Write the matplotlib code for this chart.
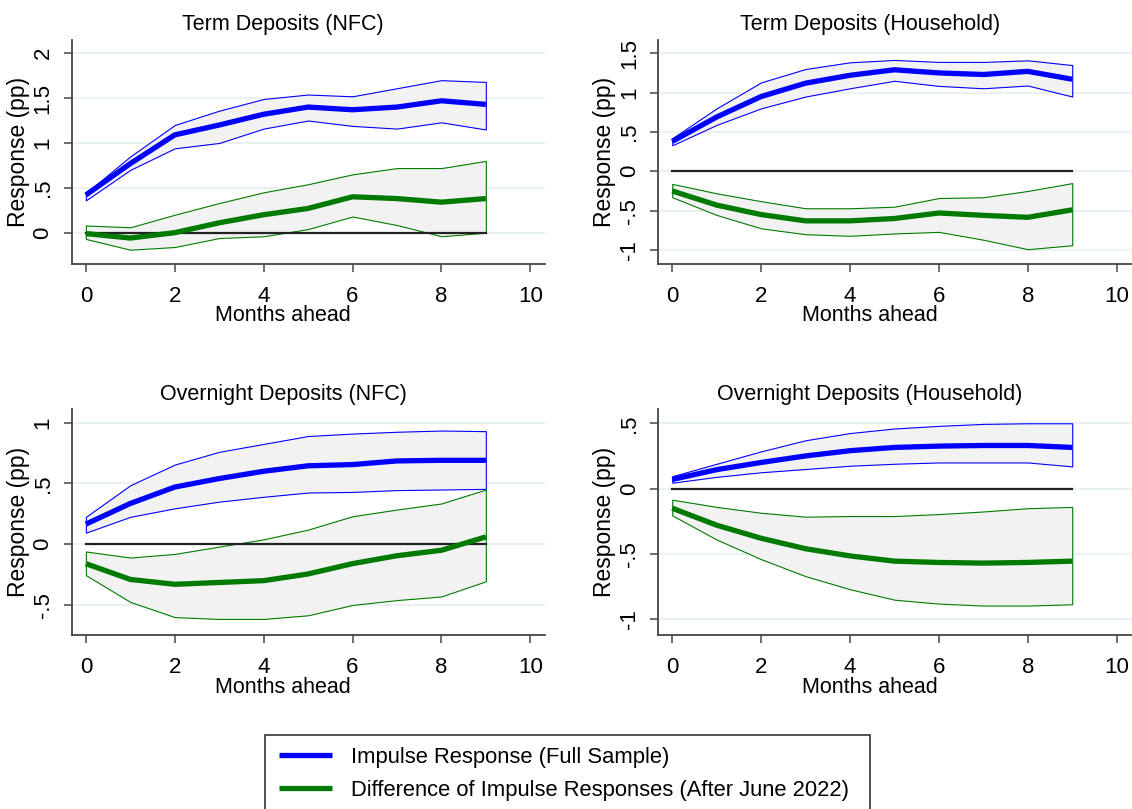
#Impulse responses of deposit rates: full sample vs. after June 2022

import numpy as np
import matplotlib.pyplot as plt
from matplotlib.patches import Rectangle

plt.rcParams['font.family'] = ['Liberation Sans', 'DejaVu Sans']

#Months ahead (horizon)
months = [0, 1, 2, 3, 4, 5, 6, 7, 8, 9]

#Term Deposits (NFC)
td_nfc_irf = [0.42, 0.77, 1.09, 1.20, 1.32, 1.40, 1.37, 1.40, 1.47, 1.43]
td_nfc_irf_hi = [0.44, 0.85, 1.20, 1.36, 1.49, 1.54, 1.52, 1.61, 1.70, 1.68]
td_nfc_irf_lo = [0.36, 0.70, 0.94, 1.00, 1.16, 1.25, 1.19, 1.16, 1.23, 1.15]
td_nfc_diff = [-0.01, -0.06, 0.00, 0.11, 0.20, 0.27, 0.40, 0.38, 0.34, 0.38]
td_nfc_diff_hi = [0.08, 0.06, 0.20, 0.33, 0.45, 0.54, 0.65, 0.72, 0.72, 0.80]
td_nfc_diff_lo = [-0.07, -0.19, -0.16, -0.06, -0.04, 0.04, 0.18, 0.085, -0.04, 0.00]

#Term Deposits (Household)
td_hh_irf = [0.38, 0.69, 0.95, 1.12, 1.22, 1.29, 1.25, 1.23, 1.27, 1.17]
td_hh_irf_hi = [0.42, 0.80, 1.13, 1.30, 1.385, 1.415, 1.39, 1.39, 1.41, 1.35]
td_hh_irf_lo = [0.33, 0.59, 0.80, 0.95, 1.055, 1.15, 1.085, 1.055, 1.09, 0.95]
td_hh_diff = [-0.25, -0.43, -0.55, -0.63, -0.63, -0.60, -0.53, -0.56, -0.585, -0.49]
td_hh_diff_hi = [-0.16, -0.28, -0.38, -0.47, -0.47, -0.45, -0.34, -0.33, -0.25, -0.15]
td_hh_diff_lo = [-0.33, -0.555, -0.725, -0.80, -0.82, -0.79, -0.77, -0.87, -0.99, -0.94]

#Overnight Deposits (NFC)
od_nfc_irf = [0.165, 0.335, 0.47, 0.54, 0.60, 0.645, 0.655, 0.685, 0.69, 0.69]
od_nfc_irf_hi = [0.225, 0.485, 0.655, 0.76, 0.825, 0.89, 0.91, 0.925, 0.935, 0.93]
od_nfc_irf_lo = [0.095, 0.225, 0.295, 0.35, 0.39, 0.425, 0.43, 0.445, 0.45, 0.455]
od_nfc_diff = [-0.16, -0.29, -0.33, -0.315, -0.30, -0.245, -0.16, -0.095, -0.05, 0.06]
od_nfc_diff_hi = [-0.06, -0.11, -0.08, -0.02, 0.04, 0.12, 0.23, 0.285, 0.335, 0.45]
od_nfc_diff_lo = [-0.255, -0.475, -0.60, -0.615, -0.615, -0.585, -0.50, -0.46, -0.43, -0.305]

#Overnight Deposits (Household)
od_hh_irf = [0.07, 0.145, 0.20, 0.25, 0.29, 0.315, 0.325, 0.33, 0.33, 0.315]
od_hh_irf_hi = [0.095, 0.19, 0.285, 0.37, 0.425, 0.46, 0.48, 0.495, 0.50, 0.50]
od_hh_irf_lo = [0.045, 0.09, 0.125, 0.15, 0.175, 0.19, 0.20, 0.20, 0.20, 0.17]
od_hh_diff = [-0.15, -0.28, -0.38, -0.46, -0.515, -0.555, -0.565, -0.57, -0.565, -0.555]
od_hh_diff_hi = [-0.085, -0.14, -0.185, -0.215, -0.21, -0.21, -0.195, -0.175, -0.15, -0.14]
od_hh_diff_lo = [-0.205, -0.39, -0.54, -0.67, -0.77, -0.85, -0.88, -0.895, -0.895, -0.885]

#Panel titles, y ticks and y limits
titles = ['Term Deposits (NFC)', 'Term Deposits (Household)',
          'Overnight Deposits (NFC)', 'Overnight Deposits (Household)']
yticks_list = [[0, 0.5, 1, 1.5, 2], [-1, -0.5, 0, 0.5, 1, 1.5],
               [-0.5, 0, 0.5, 1], [-1, -0.5, 0, 0.5]]
ylims = [(-0.349, 2.148), (-1.178, 1.669), (-0.747, 1.11), (-1.12, 0.607)]

panels = [
    (td_nfc_irf, td_nfc_irf_lo, td_nfc_irf_hi, td_nfc_diff, td_nfc_diff_lo, td_nfc_diff_hi),
    (td_hh_irf, td_hh_irf_lo, td_hh_irf_hi, td_hh_diff, td_hh_diff_lo, td_hh_diff_hi),
    (od_nfc_irf, od_nfc_irf_lo, od_nfc_irf_hi, od_nfc_diff, od_nfc_diff_lo, od_nfc_diff_hi),
    (od_hh_irf, od_hh_irf_lo, od_hh_irf_hi, od_hh_diff, od_hh_diff_lo, od_hh_diff_hi),
]

blue = '#0000ff'
green = '#007a00'
band_fill = '#f2f2f2'


def stata_label(v):
    #Stata style tick labels: .5 instead of 0.5
    if v == int(v):
        return str(int(v))
    s = '{:g}'.format(v)
    return s.replace('0.', '.')


fig = plt.figure(figsize=(11.32, 8.09), dpi=100)

#axes rectangles [left, bottom, width, height] in figure fractions
ax_w = 0.4181
ax_h_top = 0.2769
ax_h_bot = 0.2790
positions = [[0.0633, 0.6737, ax_w, ax_h_top], [0.5813, 0.6737, ax_w, ax_h_top],
             [0.0633, 0.2151, ax_w, ax_h_bot], [0.5813, 0.2151, ax_w, ax_h_bot]]

months_arr = np.array(months)
line_handles = []
for i in range(4):
    ax = fig.add_axes(positions[i])
    irf, irf_lo, irf_hi, diff, diff_lo, diff_hi = panels[i]

    #confidence bands (gray fill with thin coloured outline)
    ax.fill_between(months_arr, irf_lo, irf_hi, facecolor=band_fill,
                    edgecolor=blue, linewidth=0.8, zorder=2)
    ax.fill_between(months_arr, diff_lo, diff_hi, facecolor=band_fill,
                    edgecolor=green, linewidth=0.8, zorder=2)

    #zero line
    ax.plot(months_arr, np.zeros(len(months)), color='#222222', linewidth=1.6, zorder=3)

    #point estimates
    h1, = ax.plot(months_arr, irf, color=blue, linewidth=3.8, zorder=4,
                  solid_capstyle='butt')
    h2, = ax.plot(months_arr, diff, color=green, linewidth=3.8, zorder=4,
                  solid_capstyle='butt')
    if i == 0:
        line_handles = [h1, h2]

    #axes styling
    ax.set_xlim(-0.32, 10.33)
    ax.set_ylim(ylims[i])
    ax.set_xticks([0, 2, 4, 6, 8, 10])
    ax.set_yticks(yticks_list[i])
    ax.set_yticklabels([stata_label(v) for v in yticks_list[i]], rotation=90, va='center')
    ax.tick_params(axis='both', labelsize=16, length=6, width=1.2, color='#555555')
    ax.tick_params(axis='x', pad=10)
    ax.tick_params(axis='y', pad=7)
    ax.grid(axis='y', color='#e6eff0', linewidth=1.2, zorder=0)
    ax.set_axisbelow(True)
    for side in ['top', 'right']:
        ax.spines[side].set_visible(False)
    for side in ['left', 'bottom']:
        ax.spines[side].set_color('#444444')
        ax.spines[side].set_linewidth(1.3)

    ax.set_title(titles[i], fontsize=15.5, x=0.447, pad=7)
    ax.set_xlabel('Months ahead', fontsize=15.5)
    ax.xaxis.set_label_coords(0.447, -0.185)
    ax.set_ylabel('Response (pp)', fontsize=16.5, labelpad=2)

#legend box (runs off the bottom of the figure like the original)
box = Rectangle((265 / 1132, -0.05), (870 - 265) / 1132, 0.05 + (1 - 735 / 809),
                transform=fig.transFigure, facecolor='white', edgecolor='#444444',
                linewidth=1.3, clip_on=False)
fig.patches.append(box)

fig.legend(line_handles,
           ['Impulse Response (Full Sample)',
            'Difference of Impulse Responses (After June 2022)'],
           loc='upper left', bbox_to_anchor=(279 / 1132, 1 - 747 / 809),
           frameon=False, fontsize=15.8, handlelength=2.4, handletextpad=0.9,
           labelspacing=0.55, borderpad=0.0, borderaxespad=0.0)

plt.savefig('out.png', dpi=100)
